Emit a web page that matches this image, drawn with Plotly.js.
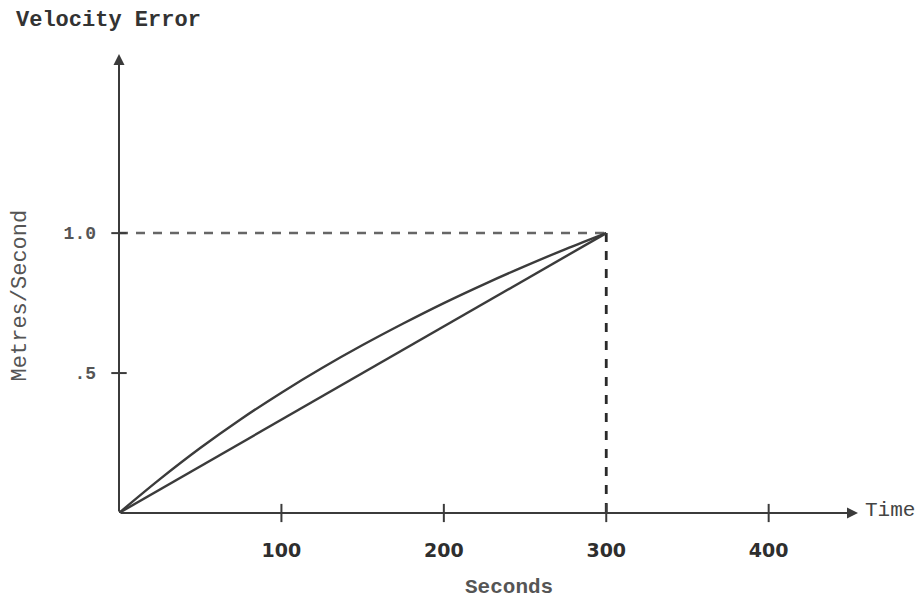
<!DOCTYPE html>
<html>
<head>
<meta charset="utf-8">
<script src="https://cdn.plot.ly/plotly-3.0.1.min.js"></script>
<style>
  html, body { margin: 0; padding: 0; background: #fff; }
  #chart { width: 917px; height: 599px; }
</style>
</head>
<body>
<div id="chart"></div>
<script>
// Time samples (seconds) and velocity error (m/s)
var timeCurve = [0, 25, 50, 75, 100, 125, 150, 175, 200, 225, 250, 275, 300];
var errorCurve = [0, 0.12, 0.232, 0.335, 0.43, 0.518, 0.6, 0.677, 0.75, 0.818, 0.882, 0.943, 1.0];

var timeLinear = [0, 300];
var errorLinear = [0, 1.0];

// Reference level reached at the end of the interval
var endTime = 300;
var endError = 1.0;

var xTicks = [100, 200, 300, 400];
var xTickText = ['100', '200', '300', '400'];
var yTicks = [0.5, 1.0];
var yTickText = ['.5', '1.0'];

var xMax = 455;
var yMax = 1.64;

var ink = '#3b3b3b';
var mono = '"Liberation Mono", "Courier New", monospace';

var traces = [
  {
    x: [0, endTime], y: [endError, endError],
    mode: 'lines', line: { color: '#666', width: 2.5, dash: '9px,8px' },
    hoverinfo: 'skip'
  },
  {
    x: [endTime, endTime], y: [endError, 0],
    mode: 'lines', line: { color: '#2a2a2a', width: 2.8, dash: '9px,9px' },
    hoverinfo: 'skip'
  },
  {
    x: timeCurve, y: errorCurve,
    mode: 'lines', line: { color: ink, width: 2.4, shape: 'spline', smoothing: 1 }
  },
  {
    x: timeLinear, y: errorLinear,
    mode: 'lines', line: { color: ink, width: 2.4 }
  },
  // tick marks crossing the axes
  {
    x: xTicks, y: xTicks.map(function () { return 0; }),
    mode: 'markers', cliponaxis: false,
    marker: { symbol: 'line-ns-open', size: 13, color: ink, line: { color: ink, width: 2 } },
    hoverinfo: 'skip'
  },
  {
    x: yTicks.map(function () { return 0; }), y: yTicks,
    mode: 'markers', cliponaxis: false,
    marker: { symbol: 'line-ew-open', size: 11, color: ink, line: { color: ink, width: 2 } },
    hoverinfo: 'skip'
  }
];

var layout = {
  width: 917, height: 599,
  margin: { l: 119, r: 59, t: 54, b: 86 },
  paper_bgcolor: '#fff', plot_bgcolor: '#fff',
  showlegend: false,
  xaxis: {
    range: [0, xMax], showgrid: false, zeroline: false, showline: false,
    tickvals: xTicks, ticktext: xTickText, ticks: '',
    ticklabelstandoff: 24,
    tickfont: { family: '"DejaVu Sans", Verdana, sans-serif', size: 19, color: '#2e2e2e', weight: 'bold' }
  },
  yaxis: {
    range: [0, yMax], showgrid: false, zeroline: false, showline: false,
    tickvals: yTicks, ticktext: yTickText, ticks: '',
    ticklabelstandoff: 22,
    tickfont: { family: mono, size: 18, color: '#555', weight: 'bold' }
  },
  annotations: [
    // axes with arrowheads
    { x: xMax, y: 0, ax: 0, ay: 0, xref: 'x', yref: 'y', axref: 'x', ayref: 'y',
      text: '', showarrow: true, arrowhead: 2, arrowsize: 1.1, arrowwidth: 2, arrowcolor: ink },
    { x: 0, y: yMax, ax: 0, ay: 0, xref: 'x', yref: 'y', axref: 'x', ayref: 'y',
      text: '', showarrow: true, arrowhead: 2, arrowsize: 1.1, arrowwidth: 2, arrowcolor: ink },
    { text: 'Velocity Error', xref: 'paper', yref: 'paper', x: -0.142, y: 1.072,
      xanchor: 'left', yanchor: 'middle', showarrow: false,
      font: { family: mono, size: 22, color: '#333', weight: 'bold' } },
    { text: 'Metres/Second', xref: 'paper', yref: 'paper', x: -0.132, y: 0.475,
      textangle: -90, xanchor: 'center', yanchor: 'middle', showarrow: false,
      font: { family: mono, size: 22, color: '#555' } },
    { text: 'Seconds', xref: 'x', yref: 'paper', x: 240, y: -0.163,
      xanchor: 'center', yanchor: 'middle', showarrow: false,
      font: { family: mono, size: 21, color: '#555', weight: 'bold' } },
    { text: 'Time', xref: 'paper', yref: 'y', x: 1.0, y: 0.01,
      xanchor: 'left', yanchor: 'middle', xshift: 5, showarrow: false,
      font: { family: mono, size: 21, color: '#444' } }
  ]
};

Plotly.newPlot('chart', traces, layout, { displayModeBar: false, staticPlot: true });
</script>
</body>
</html>
